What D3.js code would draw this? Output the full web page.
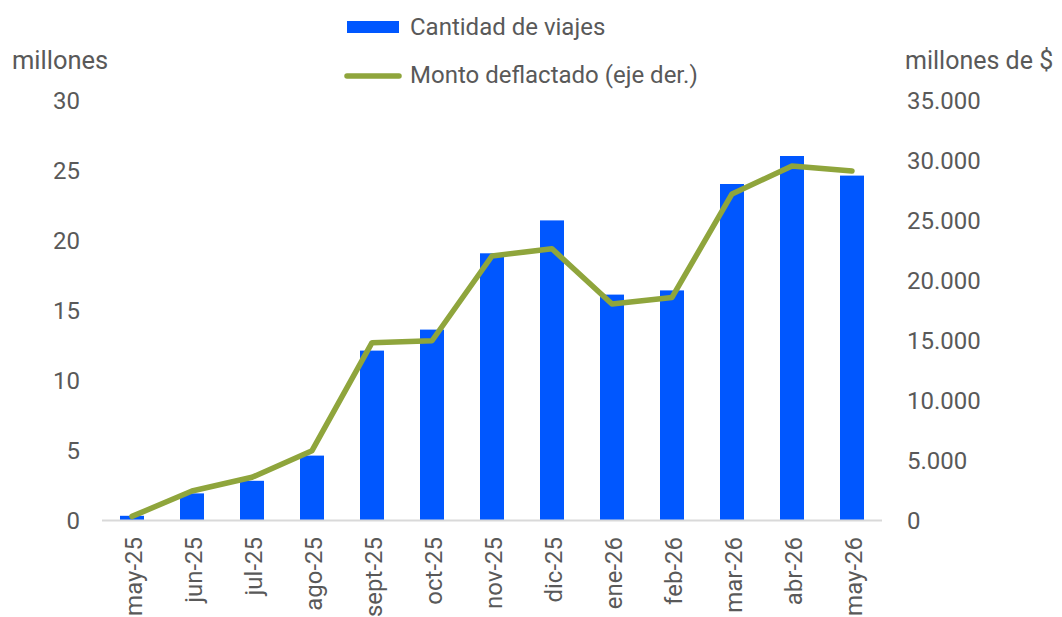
<!DOCTYPE html>
<html lang="es">
<head>
<meta charset="UTF-8">
<title>Cantidad de viajes y monto deflactado</title>
<script src="https://d3js.org/d3.v7.min.js"></script>
<style>
  body { margin: 0; background: #fff; font-family: Roboto, Arial, sans-serif; }
  text { fill: #595959; font-family: Roboto, Arial, sans-serif; }
</style>
</head>
<body>
<svg width="1062" height="617"></svg>
<script>
const meses = ["may-25","jun-25","jul-25","ago-25","sept-25","oct-25","nov-25","dic-25","ene-26","feb-26","mar-26","abr-26","may-26"];
const viajes = [0.3, 1.9, 2.8, 4.6, 12.1, 13.6, 19.05, 21.4, 16.1, 16.4, 24.0, 26.0, 24.6];
const monto = [300, 2420, 3560, 5780, 14780, 14940, 22000, 22600, 18000, 18550, 27170, 29500, 29080];
const ticksIzq = [0, 5, 10, 15, 20, 25, 30];
const ticksDer = [0, 5000, 10000, 15000, 20000, 25000, 30000, 35000];

const azul = "#0057ff", verde = "#8fa53c";
const svg = d3.select("svg");

const x = d3.scaleBand().domain(meses).range([102, 882]).paddingInner(0.6).paddingOuter(0.3);
const yIzq = d3.scaleLinear().domain([0, 30]).range([520, 100]);
const yDer = d3.scaleLinear().domain([0, 35000]).range([520, 100]);
const fmt = d3.formatLocale({decimal: ",", thousands: ".", grouping: [3], currency: ["$", ""]}).format(",d");

// ejes
const ejeIzq = svg.append("g").attr("transform", "translate(80,0)")
  .call(d3.axisLeft(yIzq).tickValues(ticksIzq).tickSize(0).tickPadding(0));
ejeIzq.select(".domain").remove();
ejeIzq.selectAll("text").attr("font-size", 24).attr("dy", "0.35em").attr("text-anchor", "end");

const ejeDer = svg.append("g").attr("transform", "translate(907,0)")
  .call(d3.axisRight(yDer).tickValues(ticksDer).tickFormat(fmt).tickSize(0).tickPadding(0));
ejeDer.select(".domain").remove();
ejeDer.selectAll("text").attr("font-size", 24).attr("dy", "0.35em");

// barras
svg.append("g").selectAll("rect").data(meses).join("rect")
  .attr("x", d => x(d))
  .attr("width", x.bandwidth())
  .attr("y", (d, i) => yIzq(viajes[i]))
  .attr("height", (d, i) => yIzq(0) - yIzq(viajes[i]))
  .attr("fill", azul);

// eje x
svg.append("line").attr("x1", 102).attr("x2", 882).attr("y1", 520.5).attr("y2", 520.5)
  .attr("stroke", "#d9d9d9").attr("stroke-width", 2);
svg.append("g").selectAll("text").data(meses).join("text")
  .attr("transform", d => `translate(${x(d) + x.bandwidth() / 2 + 10},537) rotate(-90)`)
  .attr("text-anchor", "end")
  .attr("font-size", 24)
  .text(d => d);

// linea
const linea = d3.line().x((d, i) => x(meses[i]) + x.bandwidth() / 2).y(d => yDer(d));
svg.append("path").datum(monto)
  .attr("d", linea)
  .attr("fill", "none")
  .attr("stroke", verde)
  .attr("stroke-width", 5.5)
  .attr("stroke-linejoin", "round")
  .attr("stroke-linecap", "round");

// titulos de ejes
svg.append("text").attr("x", 12).attr("y", 69).attr("font-size", 25.5).text("millones");
svg.append("text").attr("x", 905).attr("y", 69).attr("font-size", 25).text("millones de $");

// leyenda
svg.append("rect").attr("x", 347).attr("y", 21).attr("width", 52).attr("height", 12).attr("fill", azul);
svg.append("text").attr("x", 410).attr("y", 34.5).attr("font-size", 24).text("Cantidad de viajes");
svg.append("line").attr("x1", 347).attr("x2", 399).attr("y1", 76).attr("y2", 76)
  .attr("stroke", verde).attr("stroke-width", 5.5).attr("stroke-linecap", "round");
svg.append("text").attr("x", 410).attr("y", 83).attr("font-size", 24).text("Monto deflactado (eje der.)");
</script>
</body>
</html>
